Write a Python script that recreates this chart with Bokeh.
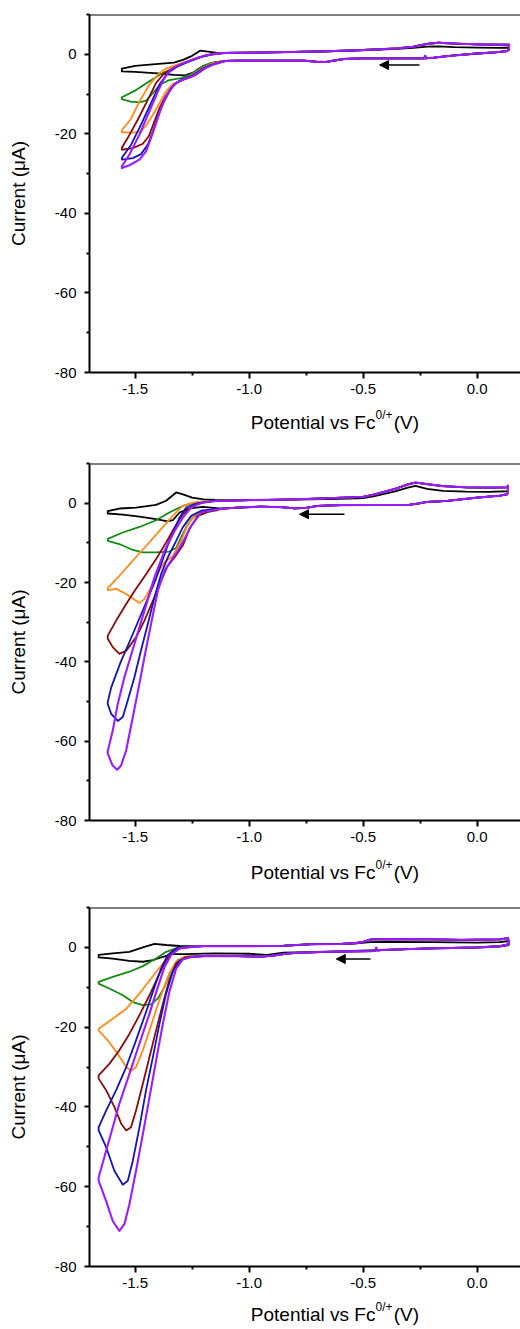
from bokeh.plotting import figure
from bokeh.layouts import column
from bokeh.models import FixedTicker, PrintfTickFormatter, Span, Label, Arrow, NormalHead, Range1d
from bokeh.embed import file_html
from bokeh.resources import INLINE

# ---------------- axes ----------------
X_START, X_END = -1.70, 0.19
Y_START, Y_END = -80, 10
X_TICKS = [-1.5, -1.0, -0.5, 0.0]
X_MINOR = [-1.25, -0.75, -0.25]
Y_TICKS = [-80, -60, -40, -20, 0]
Y_MINOR = [-70, -50, -30, -10, 10]
X_LABEL_MAIN = "Potential vs Fc"
X_LABEL_SUP = "0/+"
X_LABEL_TAIL = "(V)"
Y_LABEL = "Current (\u03bcA)"

COLORS = {
    "black": "#000000",
    "green": "#138a13",
    "orange": "#ff8c1a",
    "darkred": "#8b0a0a",
    "blue": "#1414b4",
    "purple": "#9a1cff",
}
ORDER = ["black", "green", "orange", "darkred", "blue", "purple"]

# ---------------- panel 1 (V, uA) ----------------
P1_LOWER_R = [(0.14, 1.2), (0.13, 0.8), (0.08, 0.5), (0.0, 0.2), (-0.10, -0.3), (-0.19, -0.85),
              (-0.225, -1.0), (-0.228, -0.4), (-0.232, -1.0), (-0.35, -1.05), (-0.50, -1.05),
              (-0.58, -1.15), (-0.62, -1.5), (-0.66, -1.9), (-0.70, -1.9), (-0.76, -1.6),
              (-0.90, -1.6), (-1.05, -1.6), (-1.10, -1.65)]
P1_UPPER_R = [(-1.10, 0.35), (-1.0, 0.4), (-0.85, 0.55), (-0.70, 0.7), (-0.55, 0.95), (-0.45, 1.2),
              (-0.35, 1.5), (-0.28, 1.9), (-0.22, 2.6), (-0.17, 2.9), (-0.10, 2.7), (0.0, 2.5),
              (0.10, 2.4), (0.14, 2.4)]
P1_BLACK_UPPER_R = [(-1.10, 0.35), (-1.0, 0.4), (-0.85, 0.55), (-0.70, 0.7), (-0.55, 0.9), (-0.45, 1.1),
                    (-0.35, 1.35), (-0.28, 1.6), (-0.22, 1.9), (-0.17, 2.0), (-0.10, 1.8), (0.0, 1.65),
                    (0.10, 1.6), (0.14, 1.7)]

P1_BLACK_LO = [(-1.15, -2.0), (-1.20, -2.9), (-1.24, -4.5), (-1.28, -5.3), (-1.33, -5.2), (-1.40, -4.8),
               (-1.50, -4.4), (-1.558, -4.3)]
P1_BLACK_UP = [(-1.558, -3.6), (-1.50, -2.9), (-1.41, -2.5), (-1.33, -2.1), (-1.29, -1.4), (-1.25, -0.4),
               (-1.215, 0.9), (-1.18, 0.65), (-1.145, 0.4)]
P1_GREEN_LO = [(-1.17, -2.2), (-1.22, -3.5), (-1.26, -5.2), (-1.30, -6.0), (-1.35, -6.5), (-1.39, -7.6),
               (-1.42, -9.6), (-1.45, -11.6), (-1.48, -12.1), (-1.52, -11.9), (-1.558, -11.3)]
P1_GREEN_UP = [(-1.558, -10.8), (-1.496, -9.0), (-1.437, -6.8), (-1.379, -4.7), (-1.32, -3.27),
               (-1.262, -1.76), (-1.203, -0.5), (-1.145, 0.15)]
P1_ORANGE_LO = [(-1.16, -2.2), (-1.203, -3.4), (-1.247, -5.1), (-1.29, -6.4), (-1.335, -7.5), (-1.364, -9.3),
                (-1.39, -12.0), (-1.42, -15.0), (-1.452, -17.9), (-1.474, -19.4), (-1.51, -19.7), (-1.558, -19.6)]
P1_ORANGE_UP = [(-1.558, -19.1), (-1.52, -16.4), (-1.48, -11.8), (-1.437, -7.6), (-1.40, -5.1), (-1.364, -3.6),
                (-1.305, -2.4), (-1.247, -1.3), (-1.19, -0.2), (-1.145, 0.2)]
P1_DARKRED_LO = [(-1.145, -2.2), (-1.189, -3.4), (-1.232, -5.1), (-1.276, -6.1), (-1.313, -7.0), (-1.342, -8.5),
                 (-1.367, -10.6), (-1.393, -13.5), (-1.418, -17.3), (-1.44, -20.6), (-1.466, -22.5),
                 (-1.51, -23.6), (-1.558, -24.0)]
P1_DARKRED_UP = [(-1.558, -23.5), (-1.532, -21.0), (-1.488, -16.4), (-1.444, -11.4), (-1.408, -7.2),
                 (-1.371, -4.7), (-1.327, -3.3), (-1.276, -2.0), (-1.22, -0.8), (-1.16, 0.1)]
P1_BLUE_LO = [(-1.166, -2.6), (-1.21, -3.8), (-1.254, -5.5), (-1.298, -6.4), (-1.327, -7.5), (-1.35, -9.4),
              (-1.376, -12.2), (-1.40, -15.6), (-1.422, -19.4), (-1.444, -22.7), (-1.474, -25.1),
              (-1.51, -26.1), (-1.558, -26.5)]
P1_BLUE_UP = [(-1.558, -26.0), (-1.518, -22.8), (-1.474, -17.7), (-1.43, -12.2), (-1.393, -7.6),
              (-1.357, -4.7), (-1.313, -3.0), (-1.262, -1.8), (-1.20, -0.5), (-1.15, 0.1)]
P1_PURPLE_LO = [(-1.159, -2.6), (-1.203, -3.8), (-1.247, -5.5), (-1.291, -6.4), (-1.32, -7.2), (-1.342, -8.5),
                (-1.364, -10.6), (-1.386, -13.5), (-1.408, -17.3), (-1.43, -21.0), (-1.452, -24.4),
                (-1.481, -26.5), (-1.525, -27.9), (-1.558, -28.6)]
P1_PURPLE_UP = [(-1.558, -28.2), (-1.525, -25.2), (-1.481, -20.2), (-1.437, -14.3), (-1.40, -9.3),
                (-1.371, -5.9), (-1.342, -3.8), (-1.305, -2.6), (-1.247, -1.3), (-1.189, -0.25), (-1.145, 0.1)]

# ---------------- panel 2 ----------------
P2_LOWER_R = [(0.135, 2.3), (0.10, 1.9), (0.0, 1.4), (-0.13, 0.6), (-0.22, 0.3), (-0.26, -0.1),
              (-0.30, -0.45), (-0.44, -0.45), (-0.60, -0.5), (-0.70, -0.7), (-0.75, -1.2), (-0.80, -1.3),
              (-0.86, -1.0), (-0.95, -0.9), (-1.05, -1.1), (-1.12, -1.4)]
P2_UPPER_R = [(-1.15, 0.55), (-1.0, 0.75), (-0.8, 0.95), (-0.65, 1.25), (-0.5, 1.6), (-0.45, 2.2),
              (-0.36, 3.6), (-0.30, 4.8), (-0.27, 5.2), (-0.22, 4.8), (-0.15, 4.3), (-0.05, 4.0),
              (0.05, 3.9), (0.13, 4.0), (0.135, 4.4)]
P2_BLACK_UPPER_R = [(-1.15, 0.8), (-1.0, 0.75), (-0.8, 0.9), (-0.6, 1.1), (-0.5, 1.3), (-0.45, 1.8),
                    (-0.36, 3.0), (-0.30, 4.0), (-0.27, 4.35), (-0.22, 3.6), (-0.15, 3.1), (-0.05, 2.9),
                    (0.05, 2.85), (0.13, 3.0), (0.135, 3.3)]

P2_BLACK_LO = [(-1.203, -0.95), (-1.261, -1.3), (-1.305, -2.35), (-1.335, -4.3), (-1.357, -4.6),
               (-1.408, -4.0), (-1.481, -3.4), (-1.554, -2.9), (-1.62, -2.6)]
P2_BLACK_UP = [(-1.62, -2.0), (-1.569, -1.35), (-1.496, -1.1), (-1.408, -0.45), (-1.364, 0.6),
               (-1.32, 2.7), (-1.29, 2.2), (-1.25, 1.4), (-1.20, 0.95)]
P2_GREEN_LO = [(-1.145, -1.9), (-1.203, -2.35), (-1.247, -3.6), (-1.276, -6.1), (-1.298, -8.6),
               (-1.32, -11.3), (-1.35, -12.2), (-1.408, -12.4), (-1.466, -12.4), (-1.51, -11.8),
               (-1.569, -10.3), (-1.62, -9.5)]
P2_GREEN_UP = [(-1.62, -9.0), (-1.554, -7.4), (-1.481, -6.0), (-1.408, -4.3), (-1.35, -2.35),
               (-1.291, -0.7), (-1.232, 0.15), (-1.174, 0.5)]
P2_ORANGE_LO = [(-1.145, -1.8), (-1.189, -1.9), (-1.232, -2.8), (-1.269, -5.3), (-1.298, -9.5),
                (-1.335, -13.3), (-1.371, -14.9), (-1.40, -17.5), (-1.43, -21.2), (-1.459, -24.2),
                (-1.481, -25.2), (-1.496, -24.6), (-1.539, -22.9), (-1.583, -21.6), (-1.62, -21.9)]
P2_ORANGE_UP = [(-1.62, -21.4), (-1.569, -18.3), (-1.51, -14.5), (-1.452, -10.8), (-1.393, -7.0),
                (-1.335, -3.2), (-1.291, -0.7), (-1.247, 0.15), (-1.189, 0.5)]
P2_DARKRED_LO = [(-1.174, -2.1), (-1.225, -3.2), (-1.262, -6.5), (-1.291, -10.7), (-1.327, -13.7),
                 (-1.357, -15.8), (-1.386, -19.6), (-1.422, -24.6), (-1.459, -29.6), (-1.496, -33.8),
                 (-1.539, -37.2), (-1.569, -38.0), (-1.598, -36.3), (-1.62, -34.2)]
P2_DARKRED_UP = [(-1.62, -33.4), (-1.583, -29.6), (-1.539, -25.4), (-1.496, -21.6), (-1.452, -17.9),
                 (-1.408, -14.1), (-1.364, -9.9), (-1.327, -6.1), (-1.291, -2.8), (-1.247, -0.7), (-1.203, 0.15)]
P2_BLUE_LO = [(-1.152, -1.5), (-1.21, -1.9), (-1.254, -3.2), (-1.291, -6.1), (-1.327, -10.3),
              (-1.357, -13.7), (-1.386, -17.9), (-1.415, -23.7), (-1.444, -30.4), (-1.474, -37.1),
              (-1.503, -43.9), (-1.532, -49.7), (-1.554, -53.9), (-1.576, -54.9), (-1.605, -53.1), (-1.62, -50.6)]
P2_BLUE_UP = [(-1.62, -50.1), (-1.605, -46.5), (-1.563, -40.0), (-1.525, -35.0), (-1.466, -27.0),
              (-1.408, -19.0), (-1.35, -9.5), (-1.305, -3.6), (-1.276, -1.1), (-1.225, 0.0), (-1.17, 0.45)]
P2_PURPLE_LO = [(-1.21, -2.3), (-1.254, -5.7), (-1.284, -9.1), (-1.313, -12.0), (-1.342, -14.5),
                (-1.371, -17.0), (-1.40, -22.0), (-1.43, -30.4), (-1.459, -38.8), (-1.481, -45.5),
                (-1.51, -53.9), (-1.539, -62.3), (-1.562, -66.2), (-1.579, -67.2), (-1.60, -66.0), (-1.62, -63.1)]
P2_PURPLE_UP = [(-1.62, -62.5), (-1.598, -57.3), (-1.576, -50.6), (-1.547, -43.9), (-1.503, -35.5),
                (-1.459, -27.1), (-1.415, -18.7), (-1.371, -12.0), (-1.327, -7.0), (-1.29, -3.6),
                (-1.254, -1.1), (-1.21, 0.1)]

# ---------------- panel 3 ----------------
P3_LOWER_R = [(0.14, 0.8), (0.10, 0.3), (0.0, 0.0), (-0.216, -0.26), (-0.40, -0.6), (-0.44, -0.75),
              (-0.443, -0.1), (-0.447, -0.9), (-0.55, -1.0), (-0.655, -1.1), (-0.80, -1.4), (-0.85, -1.7),
              (-0.90, -2.1), (-0.95, -2.3), (-1.05, -2.2), (-1.20, -2.2)]
P3_UPPER_R = [(-1.20, 0.33), (-1.0, 0.3), (-0.85, 0.4), (-0.73, 0.8), (-0.6, 0.85), (-0.53, 1.1),
              (-0.50, 1.4), (-0.465, 2.0), (-0.40, 2.1), (-0.20, 2.0), (-0.07, 1.9), (0.10, 2.0), (0.135, 2.3)]
P3_BLACK_LOWER_R = [(0.14, 0.6), (0.10, 0.2), (0.0, -0.05), (-0.216, -0.3), (-0.44, -0.7), (-0.55, -0.9),
                    (-0.70, -1.1), (-0.85, -1.3), (-0.92, -1.9), (-1.0, -1.6), (-1.15, -1.5), (-1.20, -1.55)]
P3_BLACK_UPPER_R = [(-1.20, 0.3), (-1.0, 0.3), (-0.85, 0.45), (-0.70, 0.8), (-0.55, 0.9), (-0.47, 1.3),
                    (-0.40, 1.35), (-0.20, 1.3), (0.0, 1.2), (0.10, 1.3), (0.14, 1.6)]

P3_BLACK_LO = [(-1.276, -1.7), (-1.335, -1.7), (-1.378, -2.35), (-1.422, -3.2), (-1.466, -3.6),
               (-1.525, -3.4), (-1.598, -2.8), (-1.66, -2.5)]
P3_BLACK_UP = [(-1.66, -1.9), (-1.598, -1.5), (-1.525, -1.1), (-1.466, 0.0), (-1.415, 0.9),
               (-1.364, 0.6), (-1.305, 0.35)]
P3_GREEN_LO = [(-1.276, -2.35), (-1.313, -3.2), (-1.342, -5.7), (-1.371, -9.9), (-1.40, -12.8),
               (-1.43, -14.3), (-1.466, -14.5), (-1.51, -13.7), (-1.554, -12.0), (-1.613, -10.3), (-1.66, -9.1)]
P3_GREEN_UP = [(-1.66, -8.65), (-1.598, -7.4), (-1.525, -6.1), (-1.466, -4.7), (-1.408, -2.8),
               (-1.364, -1.1), (-1.32, -0.25), (-1.276, 0.15)]
P3_ORANGE_LO = [(-1.283, -2.35), (-1.32, -3.6), (-1.35, -6.5), (-1.378, -10.7), (-1.408, -15.7),
                (-1.437, -20.8), (-1.466, -25.8), (-1.496, -30.0), (-1.518, -31.0), (-1.539, -30.0),
                (-1.576, -26.7), (-1.62, -23.3), (-1.66, -20.8)]
P3_ORANGE_UP = [(-1.66, -20.4), (-1.598, -17.9), (-1.539, -15.4), (-1.481, -11.6), (-1.43, -7.8),
                (-1.378, -4.0), (-1.342, -1.5), (-1.305, -0.25), (-1.261, 0.15)]
P3_DARKRED_LO = [(-1.283, -2.5), (-1.32, -4.0), (-1.35, -8.2), (-1.378, -14.1), (-1.408, -20.8),
                 (-1.437, -27.5), (-1.466, -34.2), (-1.496, -40.9), (-1.518, -45.1), (-1.539, -45.9),
                 (-1.561, -44.2), (-1.591, -40.0), (-1.627, -35.8), (-1.66, -32.9)]
P3_DARKRED_UP = [(-1.66, -32.1), (-1.613, -29.2), (-1.569, -25.8), (-1.525, -21.7), (-1.481, -17.0),
                 (-1.437, -12.0), (-1.40, -7.4), (-1.371, -4.0), (-1.342, -1.5), (-1.305, -0.25), (-1.247, 0.15)]
P3_BLUE_LO = [(-1.261, -2.35), (-1.305, -3.4), (-1.335, -6.1), (-1.364, -11.6), (-1.393, -19.1),
              (-1.422, -27.5), (-1.452, -35.8), (-1.481, -45.1), (-1.51, -53.5), (-1.532, -58.5),
              (-1.554, -59.5), (-1.591, -56.0), (-1.627, -50.1), (-1.66, -45.9)]
P3_BLUE_UP = [(-1.66, -45.1), (-1.627, -40.9), (-1.583, -35.8), (-1.539, -30.0), (-1.496, -23.3),
              (-1.452, -16.2), (-1.415, -9.9), (-1.386, -5.3), (-1.357, -1.9), (-1.32, -0.25), (-1.261, 0.15)]
P3_PURPLE_LO = [(-1.247, -2.35), (-1.291, -3.0), (-1.32, -5.3), (-1.35, -11.2), (-1.378, -19.1),
                (-1.408, -28.4), (-1.437, -37.6), (-1.466, -46.8), (-1.496, -56.0), (-1.525, -64.4),
                (-1.547, -69.4), (-1.569, -71.1), (-1.598, -68.6), (-1.627, -63.6), (-1.66, -58.5)]
P3_PURPLE_UP = [(-1.66, -57.7), (-1.627, -51.0), (-1.598, -45.1), (-1.569, -39.2), (-1.525, -31.7),
                (-1.481, -24.1), (-1.437, -16.6), (-1.40, -9.9), (-1.371, -4.9), (-1.342, -1.9),
                (-1.305, -0.25), (-1.247, 0.15)]

# scan-direction arrows: (x_start, x_end, y)
ARROWS = [(-0.253, -0.428, -2.7), (-0.582, -0.779, -2.8), (-0.468, -0.618, -2.9)]

PANELS = [
    {
        "black": (P1_LOWER_R, P1_BLACK_LO, P1_BLACK_UP, P1_BLACK_UPPER_R),
        "green": (P1_LOWER_R, P1_GREEN_LO, P1_GREEN_UP, P1_UPPER_R),
        "orange": (P1_LOWER_R, P1_ORANGE_LO, P1_ORANGE_UP, P1_UPPER_R),
        "darkred": (P1_LOWER_R, P1_DARKRED_LO, P1_DARKRED_UP, P1_UPPER_R),
        "blue": (P1_LOWER_R, P1_BLUE_LO, P1_BLUE_UP, P1_UPPER_R),
        "purple": (P1_LOWER_R, P1_PURPLE_LO, P1_PURPLE_UP, P1_UPPER_R),
    },
    {
        "black": (P2_LOWER_R, P2_BLACK_LO, P2_BLACK_UP, P2_BLACK_UPPER_R),
        "green": (P2_LOWER_R, P2_GREEN_LO, P2_GREEN_UP, P2_UPPER_R),
        "orange": (P2_LOWER_R, P2_ORANGE_LO, P2_ORANGE_UP, P2_UPPER_R),
        "darkred": (P2_LOWER_R, P2_DARKRED_LO, P2_DARKRED_UP, P2_UPPER_R),
        "blue": (P2_LOWER_R, P2_BLUE_LO, P2_BLUE_UP, P2_UPPER_R),
        "purple": (P2_LOWER_R, P2_PURPLE_LO, P2_PURPLE_UP, P2_UPPER_R),
    },
    {
        "black": (P3_BLACK_LOWER_R, P3_BLACK_LO, P3_BLACK_UP, P3_BLACK_UPPER_R),
        "green": (P3_LOWER_R, P3_GREEN_LO, P3_GREEN_UP, P3_UPPER_R),
        "orange": (P3_LOWER_R, P3_ORANGE_LO, P3_ORANGE_UP, P3_UPPER_R),
        "darkred": (P3_LOWER_R, P3_DARKRED_LO, P3_DARKRED_UP, P3_UPPER_R),
        "blue": (P3_LOWER_R, P3_BLUE_LO, P3_BLUE_UP, P3_UPPER_R),
        "purple": (P3_LOWER_R, P3_PURPLE_LO, P3_PURPLE_UP, P3_UPPER_R),
    },
]

# ---------------- layout (px) ----------------
PAGE_W = 520
FRAME_W = 431
BORDER_LEFT = 89
BORDER_BOTTOM = 32
# per panel: top border, frame height, height of the strip holding the x title, its baseline
LAYOUT = [
    dict(top=14, h=358, strip=51, base=18),
    dict(top=8, h=357, strip=47, base=20),
    dict(top=8, h=359, strip=31, base=16),
]
SUP_X = 345      # px where the superscript starts
TAIL_X = 367     # px where "(V)" starts
SUP_RAISE = 8    # px

FONT = "Liberation Sans"


def loop(lower_r, lo, up, upper_r):
    pts = list(lower_r) + list(lo) + list(up) + list(upper_r) + [lower_r[0]]
    return [p[0] for p in pts], [p[1] for p in pts]


def style_axis(ax, tick_out, standoff):
    ax.axis_line_color = "black"
    ax.axis_line_width = 2
    ax.major_tick_line_color = "black"
    ax.major_tick_line_width = 2
    ax.minor_tick_line_color = "black"
    ax.minor_tick_line_width = 2
    ax.major_tick_in = 0
    ax.major_tick_out = tick_out
    ax.minor_tick_in = 0
    ax.minor_tick_out = 3
    ax.major_label_text_font = FONT
    ax.major_label_text_font_size = "15px"
    ax.major_label_text_color = "black"
    ax.major_label_standoff = standoff


def title_strip(cfg):
    h = cfg["strip"]
    s = figure(width=PAGE_W, height=h, x_range=Range1d(0, PAGE_W), y_range=Range1d(h, 0),
               min_border=0, min_border_left=0, min_border_right=0, min_border_top=0,
               min_border_bottom=0, x_axis_location=None, y_axis_location=None,
               output_backend="svg", toolbar_location=None, title=None)
    s.grid.visible = False
    s.outline_line_color = None
    s.background_fill_color = "white"
    s.border_fill_color = "white"
    b = cfg["base"]
    s.add_layout(Label(x=SUP_X, y=b, text=X_LABEL_MAIN, text_align="right",
                       text_baseline="alphabetic", text_font=FONT, text_font_size="19px",
                       text_color="black"))
    s.add_layout(Label(x=SUP_X, y=b - SUP_RAISE, text=X_LABEL_SUP, text_align="left",
                       text_baseline="alphabetic", text_font=FONT, text_font_size="12px",
                       text_color="black"))
    s.add_layout(Label(x=TAIL_X, y=b, text=X_LABEL_TAIL, text_align="left",
                       text_baseline="alphabetic", text_font=FONT, text_font_size="19px",
                       text_color="black"))
    return s


items = []
for i, panel in enumerate(PANELS):
    cfg = LAYOUT[i]
    p = figure(frame_width=FRAME_W, frame_height=cfg["h"],
               min_border_left=BORDER_LEFT, min_border_right=0,
               min_border_top=cfg["top"], min_border_bottom=BORDER_BOTTOM,
               x_range=Range1d(X_START, X_END), y_range=Range1d(Y_START, Y_END),
               output_backend="svg", toolbar_location=None, title=None)
    p.grid.visible = False
    p.outline_line_color = None
    p.background_fill_color = "white"
    p.border_fill_color = "white"

    p.xaxis.ticker = FixedTicker(ticks=X_TICKS, minor_ticks=X_MINOR)
    p.xaxis.formatter = PrintfTickFormatter(format="%.1f")
    p.yaxis.ticker = FixedTicker(ticks=Y_TICKS, minor_ticks=Y_MINOR)
    p.yaxis.formatter = PrintfTickFormatter(format="%d")
    style_axis(p.xaxis[0], 6, 5)
    style_axis(p.yaxis[0], 5, 8)
    p.yaxis.axis_label = Y_LABEL
    p.yaxis.axis_label_text_font = FONT
    p.yaxis.axis_label_text_font_size = "19px"
    p.yaxis.axis_label_text_font_style = "normal"
    p.yaxis.axis_label_text_color = "black"
    p.yaxis.axis_label_standoff = 23

    p.add_layout(Span(location=Y_END, dimension="width", line_color="black", line_width=2))

    for name in ORDER:
        xs, ys = loop(*panel[name])
        p.line(xs, ys, line_color=COLORS[name], line_width=2.1 if name == "purple" else 1.8,
               line_join="round")

    ax0, ax1, ay = ARROWS[i]
    p.add_layout(Arrow(end=NormalHead(size=9, fill_color="black", line_color="black", line_width=1),
                       x_start=ax0, y_start=ay, x_end=ax1, y_end=ay,
                       line_color="black", line_width=1.5))
    items.append(p)
    items.append(title_strip(cfg))

layout = column(*items)
open("out.html", "w").write(file_html(layout, INLINE))
